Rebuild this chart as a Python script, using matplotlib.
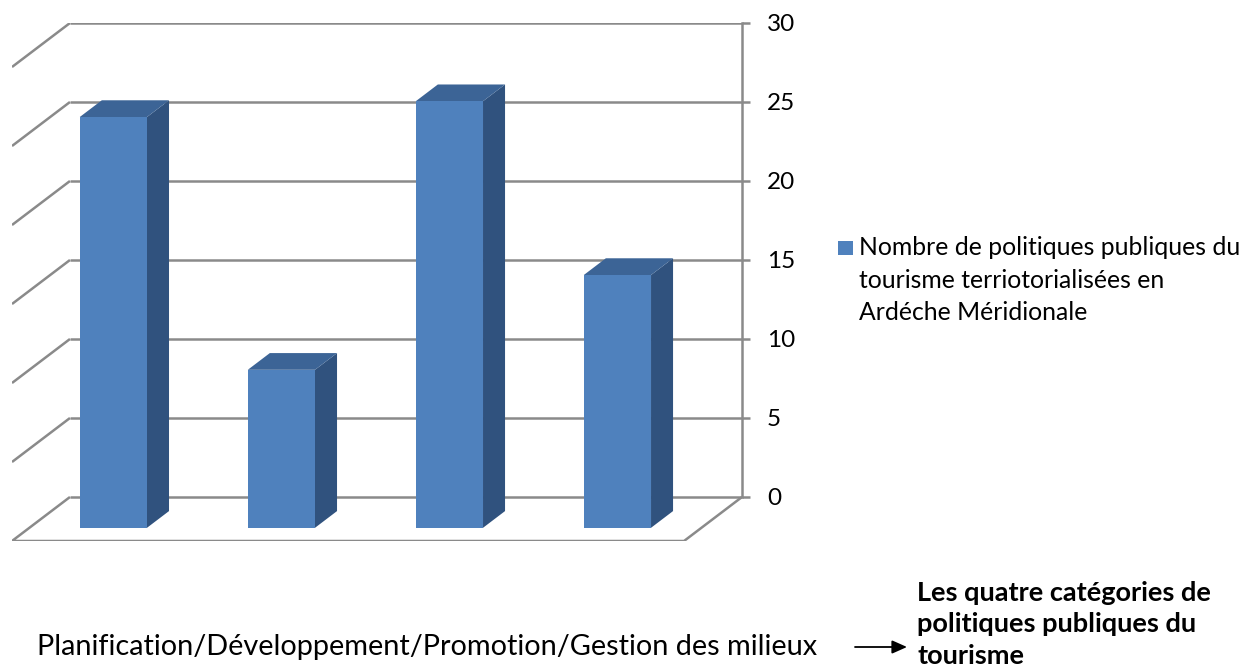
import numpy as np
import matplotlib
matplotlib.use("Agg")
import matplotlib.pyplot as plt
from matplotlib.patches import Polygon, Rectangle, FancyArrowPatch

plt.rcParams['font.family'] = ['Lato', 'DejaVu Sans']

# data
categories = ["Planification", "Développement", "Promotion", "Gestion des milieux"]
values = [26, 10, 27, 16]
yticks = [0, 5, 10, 15, 20, 25, 30]
legend_lines = ["Nombre de politiques publiques du",
                "tourisme terriotorialisées en",
                "Ardéche Méridionale"]
xlabel = "Planification/Développement/Promotion/Gestion des milieux"
note_lines = ["Les quatre catégories de", "politiques publiques du", "tourisme"]

W, H = 1243, 670
fig = plt.figure(figsize=(W / 100, H / 100), dpi=100)

# fake 3d: data coords are on the back wall, depth shifts things left/down
DX = 0.345   # categories per full depth
DY = 2.785   # value units per full depth
d0, d1 = 0.30, 0.68   # bar front/back depth
hw = 0.2             # bar half width

ax = fig.add_axes([12 / W, (H - 541) / H, 730 / W, 518 / H])
ax.set_xlim(-0.5 - DX, 3.5)
ax.set_ylim(-DY, 30)

grid = dict(color='#8a8a8a', lw=1.8, solid_capstyle='butt', zorder=1)

# back wall gridlines + left wall diagonals
for v in yticks:
    ax.plot([-0.5, 3.5], [v, v], **grid)
    if v > 0:
        ax.plot([-0.5 - DX, -0.5], [v - DY, v], **grid)

# floor
ax.plot([-0.5, -0.5 - DX, 3.5 - DX, 3.5], [0, -DY, -DY, 0], **grid)

front_c = '#4f81bd'
top_c = '#3c6496'
side_c = '#30527e'

for i, v in enumerate(values):
    cx0 = i - (1 - d0) * DX
    cx1 = i - (1 - d1) * DX
    b0 = -(1 - d0) * DY
    b1 = -(1 - d1) * DY
    t0 = v + b0
    t1 = v + b1
    ax.add_patch(Polygon([(cx0 + hw, b0), (cx1 + hw, b1), (cx1 + hw, t1), (cx0 + hw, t0)],
                         closed=True, fc=side_c, ec='none', zorder=3))
    ax.add_patch(Polygon([(cx0 - hw, t0), (cx0 + hw, t0), (cx1 + hw, t1), (cx1 - hw, t1)],
                         closed=True, fc=top_c, ec='none', zorder=3))
    ax.add_patch(Rectangle((cx0 - hw, b0), 2 * hw, v, fc=front_c, ec='none', zorder=4))

for s in ['top', 'left', 'bottom']:
    ax.spines[s].set_visible(False)
ax.spines['right'].set_bounds(0, 30)
ax.spines['right'].set_color('#8a8a8a')
ax.spines['right'].set_linewidth(1.8)
ax.spines['right'].set_zorder(1)
ax.set_xticks([])
ax.yaxis.tick_right()
ax.set_yticks(yticks)
ax.tick_params(axis='y', direction='out', length=6, width=1.8, color='#8a8a8a',
               pad=12, labelsize=17.5, labelcolor='black')
ax.patch.set_visible(False)

# legend
fig.patches.append(Rectangle((838 / W, (H - 255) / H), 15 / W, 14 / H,
                             transform=fig.transFigure, fc=front_c, ec='none'))
for k, line in enumerate(legend_lines):
    fig.text(859 / W, (H - 255 - 32.5 * k) / H, line, fontsize=17.8,
             va='baseline', ha='left')

# axis title and arrow note
fig.text(37 / W, (H - 655) / H, xlabel, fontsize=20.8, va='baseline', ha='left')
fig.patches.append(FancyArrowPatch(
    (855 / W, (H - 647) / H), (907 / W, (H - 647) / H), transform=fig.transFigure,
    arrowstyle='-|>,head_length=9,head_width=4', color='black', lw=1.3,
    shrinkA=0, shrinkB=0))
for k, line in enumerate(note_lines):
    fig.text(917 / W, (H - 601 - 31.5 * k) / H, line, fontsize=19.5,
             fontweight='bold', va='baseline', ha='left')

fig.savefig("out.png", dpi=100)
